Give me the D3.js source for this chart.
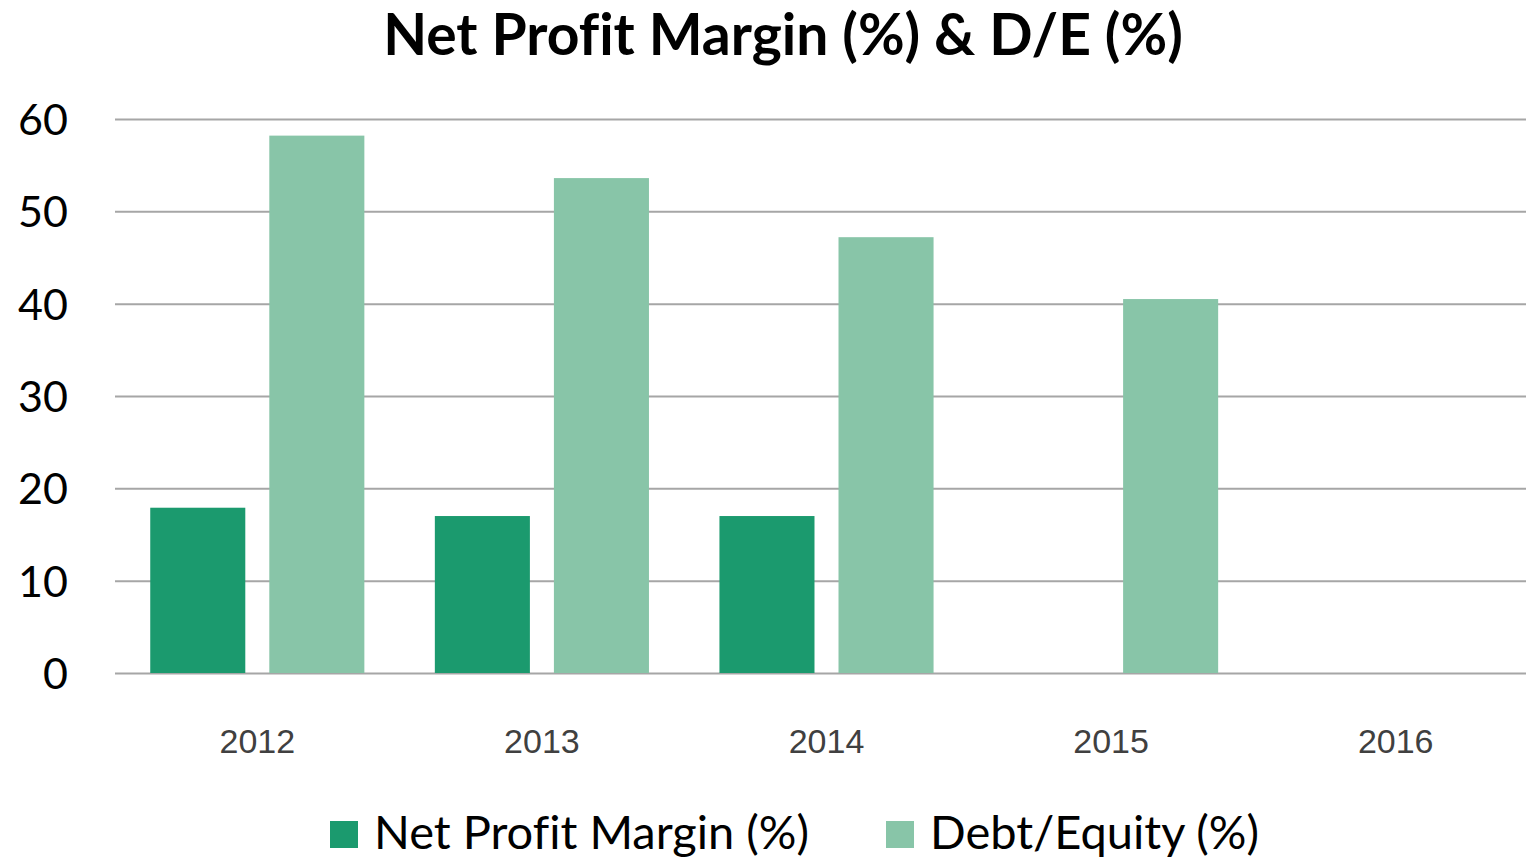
<!DOCTYPE html>
<html>
<head>
<meta charset="utf-8">
<script src="https://cdn.jsdelivr.net/npm/d3@7"></script>
<style>
  body { margin: 0; background: #fff; }
  svg { display: block; }
</style>
</head>
<body>
<svg id="chart" width="1526" height="860"></svg>
<script>
// chart data
var years = ["2012", "2013", "2014", "2015", "2016"];
var netProfitMargin = [17.9, 17.0, 17.0, null, null];
var debtEquity = [58.2, 53.6, 47.2, 40.5, null];
var seriesNames = ["Net Profit Margin (%)", "Debt/Equity (%)"];
var seriesColors = ["#1b9a6e", "#88c5a8"];
var yTicks = [0, 10, 20, 30, 40, 50, 60];

var svg = d3.select("#chart"),
    margin = {top: 119, right: -12, bottom: 187, left: 115},
    width = +svg.attr("width") - margin.left - margin.right,
    height = +svg.attr("height") - margin.top - margin.bottom;

var g = svg.append("g").attr("transform", "translate(" + margin.left + "," + margin.top + ")");

var xScale = d3.scaleBand().domain(years).range([0, width]).padding(0),
    xSub = d3.scaleBand().domain(seriesNames).range([0, xScale.bandwidth()])
      .paddingInner(0.2017).paddingOuter(0.296),
    yScale = d3.scaleLinear().domain([0, 60]).range([height, 0]);

var rows = years.map(function(y, i) {
  return {year: y, values: [netProfitMargin[i], debtEquity[i]]};
});

// title
svg.append("text")
  .attr("x", 783).attr("y", 55)
  .attr("text-anchor", "middle")
  .style("font", "bold 57px Lato")
  .style("font-variant-ligatures", "none")
  .style("fill", "#000")
  .text("Net Profit Margin (%) & D/E (%)");

// gridlines + y labels
var yAxis = g.append("g")
  .attr("class", "axis axis--y")
  .call(d3.axisLeft(yScale).tickValues(yTicks).tickSize(-width).tickPadding(47));
yAxis.select(".domain").remove();
yAxis.selectAll(".tick line").attr("stroke", "#a6a6a6").attr("stroke-width", 2);
yAxis.selectAll(".tick text")
  .attr("dy", "0.36em")
  .style("font", "43px Lato")
  .style("fill", "#000");

// bars
var group = g.selectAll(".year")
  .data(rows)
  .enter().append("g")
  .attr("class", "year")
  .attr("transform", function(d) { return "translate(" + xScale(d.year) + ",0)"; });

group.selectAll("rect")
  .data(function(d) {
    return d.values.map(function(v, i) { return {name: seriesNames[i], value: v, i: i}; })
      .filter(function(e) { return e.value != null; });
  })
  .enter().append("rect")
  .attr("x", function(d) { return xSub(d.name); })
  .attr("y", function(d) { return yScale(d.value); })
  .attr("width", xSub.bandwidth())
  .attr("height", function(d) { return height - yScale(d.value); })
  .attr("fill", function(d) { return seriesColors[d.i]; });

// x labels
var xAxis = g.append("g")
  .attr("class", "axis axis--x")
  .attr("transform", "translate(0," + height + ")")
  .call(d3.axisBottom(xScale).tickSize(0).tickPadding(0));
xAxis.select(".domain").remove();
xAxis.selectAll(".tick text")
  .attr("dy", 0).attr("y", 80)
  .style("font", "34px 'Liberation Sans', Arial, sans-serif")
  .style("fill", "#404040");

// legend
var legendX = [330, 886];
var legend = svg.selectAll(".legend")
  .data(seriesNames)
  .enter().append("g")
  .attr("class", "legend")
  .attr("transform", function(d, i) { return "translate(" + legendX[i] + ",821)"; });
legend.append("rect")
  .attr("width", 28).attr("height", 27)
  .attr("fill", function(d, i) { return seriesColors[i]; });
legend.append("text")
  .attr("x", 44).attr("y", 28)
  .style("font", "47px Lato")
  .style("font-variant-ligatures", "none")
  .style("fill", "#000")
  .text(function(d) { return d; });
</script>
</body>
</html>
